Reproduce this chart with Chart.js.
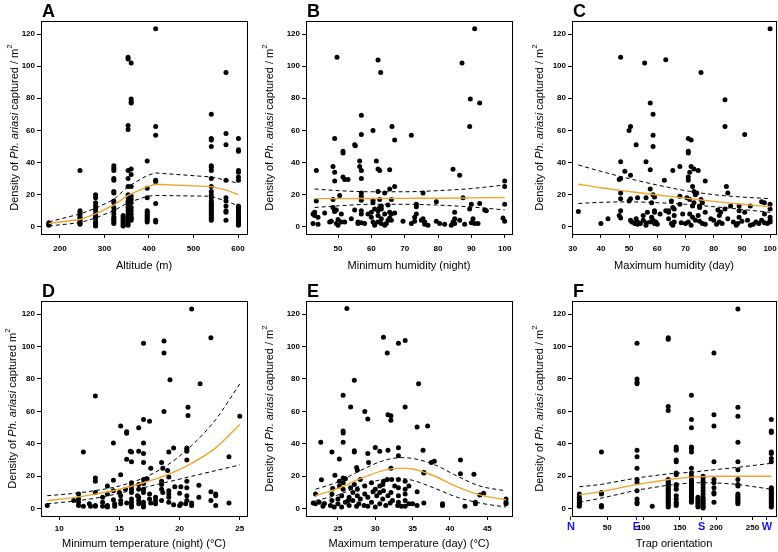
<!DOCTYPE html>
<html>
<head>
<meta charset="utf-8">
<script src="https://cdn.jsdelivr.net/npm/chart.js@4.4.1/dist/chart.umd.min.js"></script>
<style>
  html, body { margin: 0; padding: 0; background: #fff; width: 778px; height: 552px; overflow: hidden; }
  canvas { position: absolute; }
</style>
</head>
<body>
<canvas id="pA"></canvas>
<canvas id="pB"></canvas>
<canvas id="pC"></canvas>
<canvas id="pD"></canvas>
<canvas id="pE"></canvas>
<canvas id="pF"></canvas>
<script>
// Six panels: density of Ph. ariasi captured vs. each covariate,
// with the fitted curve (orange) and its confidence band (dashed).

const yTicks = [0, 20, 40, 60, 80, 100, 120];

// A - altitude: trap sites sit on a few altitudes, so values come per column
const aAltitudes = [175, 245, 280, 321, 342, 353, 360, 396, 415, 540, 573, 601];
const aDensities = [
  [1, 1.5, 2.5],
  [35, 10, 9, 7.5, 6, 5, 4, 3, 2, 1.5],
  [20, 18, 15, 13, 11, 10, 8, 7, 6, 5, 3, 2, 1, 0.5],
  [38, 36.5, 35, 30, 29, 22, 21, 16, 15, 12, 10, 8, 6, 5, 4, 3, 2],
  [7, 6, 5, 4, 3, 2, 1, 0.5],
  [105.5, 104.5, 63, 60.5, 35, 30, 25, 20, 18, 16, 15, 14, 12, 10, 8, 6, 4, 2, 1],
  [102, 79.5, 78, 77, 36, 32.5, 25, 19, 17, 15, 12, 10, 8, 6, 5, 4],
  [41, 24, 18, 10, 9, 8, 7, 6, 5, 4, 3],
  [123.2, 62.5, 57, 29, 28, 14.5, 4, 3],
  [70, 55, 54, 50, 38, 37, 35, 30, 25, 22, 20, 18, 16, 15, 14, 13, 12, 11, 10, 9, 8, 7, 6, 5, 4],
  [96, 58, 51, 29, 18, 16, 13, 10, 9, 4],
  [55, 48, 47, 35, 34, 31, 29, 13, 12, 11, 10, 9, 8, 7, 6, 5, 4, 3, 2, 1]
];
const aFitX = [175, 245, 280, 321, 353, 396, 415, 540, 573, 601];
const aFit = [2, 4.5, 8, 13.5, 19.5, 25, 26.5, 25, 23, 20];
const aUpper = [3, 8, 11.5, 17, 25, 32, 33.5, 31, 29, 27];
const aLower = [0.5, 2.5, 5.5, 10, 15, 19, 19.5, 19, 16, 13];
const aTicks = [200, 300, 400, 500, 600];

// B - minimum humidity (night)
const bPoints = [
  [91,123.2],[49.7,105.5],[62,103.8],[62.8,96],[87.2,102],[89.7,79.5],[92.5,77],[89.5,62.5],
  [66.2,62.5],[57,69.5],[57,57.5],[60.5,60],[67,54],[72,57],[49,55],[55,51],[55.2,50.5],
  [51.5,47],[51.5,46],[48.5,37.5],[49,34],[49,28.5],[43.5,35],[56.5,41],[56.5,37.5],[57,35],
  [57,30],[61.5,41],[62,36],[62.5,35],[65.5,35.5],[84.5,35.8],[86.5,32],[51.5,31],[52,29.5],
  [53,29.5],[100,28.5],[100,25],[67,25],[65.5,23.5],[64,21],[62,22],[57,21],[57,19],[75.5,21],
  [50.5,19.5],[48.5,17],[43.5,16],[60.5,16.5],[60.5,15],[62.5,17],[66,17],[73.5,14],[73.5,12.5],
  [79.5,15.5],[87.5,18],[90,14],[92.5,14.5],[100,14],[89.5,11],[94,10.5],[94.5,10],[55,10.5],
  [57,10],[57,8],[60,9],[62,10],[62.5,12],[63,11],[64,8],[65.5,9],[66,8],[67,8.5],[73.5,8],
  [73,6],[75.5,5],[76,3],[85,9],[85,5],[84.5,3],[85,2],[86.5,4],[88,1.5],[90,2.5],[90.5,5],
  [91,2],[92,2],[99.5,5.5],[100,3.5],[43,9],[42.5,8],[43,7],[44,6],[44,1.5],[42.5,2],[46,8.5],
  [47.5,3],[48,3.5],[49,10],[49.5,10.5],[50,4.5],[49.5,2],[50,1],[51,8],[51,3],[52,3],[54,5],
  [56,3],[56,2],[57,2.5],[58,2],[59,8],[60,6],[60.5,3],[61,2],[61,1],[62,7],[62,3],[63,2],
  [63,5],[64,1],[64.5,2],[65,4],[65.5,5.5],[66,4],[69.5,3.5],[72,2],[73,3.5],[75,4],[76,1.5],
  [77,1],[79.5,3.5],[80.5,2],[82,1.5],[84,1],[48.5,12],[49,9.5],[61,11],[63,13],[65,13.5],[57,16.5]
];
const bFitX = [43, 50, 60, 70, 80, 90, 100];
const bFit = [17.5, 17.5, 17.6, 17.7, 17.8, 18, 18.2];
const bUpper = [23.5, 22.5, 21.8, 21.8, 22.5, 23.8, 26];
const bLower = [12, 13, 14, 14, 13.5, 12.3, 10.5];
const bTicks = [50, 60, 70, 80, 90, 100];

// C - maximum humidity (day)
const cPoints = [
  [100,123.2],[47,105.5],[55.5,102],[63,104],[75.5,96],[84,79],[84,62.5],[91,57.5],[57.5,77],
  [58.5,70],[50.5,62.5],[50,60],[52.5,51],[58.5,57],[58.5,50],[71,55],[72,54],[71,47],[71,46],
  [47,40.5],[56,40.5],[48.5,34.5],[50.5,32],[46.5,29.5],[47,30],[57.5,35.5],[62.5,29],[65.5,35],
  [68,37.5],[71,31],[71,29],[72,37.5],[73,36],[74.5,35],[71.5,34],[77,28.5],[72.5,25],[84.5,25],
  [85,21],[73,22],[74,21],[47,21],[47,17.5],[50.5,17.5],[50,16],[47,10],[46.5,7],[47,5.5],
  [53,18],[57.5,23.5],[56,18],[58,15],[58.5,20],[59,18.5],[59,10],[59,9],[65,16],[65.5,12],
  [64,10],[64,9],[68,19],[68,14],[70.5,18],[71.5,17],[72.5,13],[73,15],[73.5,20],[75,13],
  [75.5,17],[76,15],[75,12],[77,9],[81.5,10.5],[82.5,9],[82,7],[84,11],[86,13],[89,13],[89,10],
  [91,9],[93,13],[97,15.5],[98,15],[98,8],[100,14],[100,11],[100,6],[100,4],[100,3],[99,2],
  [32,9.5],[40,2],[42.5,5],[50.5,4],[51,3],[52,2],[52.5,5],[53,3],[53,1.5],[54,2],[55,4],[56,1],
  [56,2.5],[56.5,9],[57.5,3],[58,6],[58.5,4],[59,2],[59.5,3],[60,1.5],[63,10],[64,5],[65,2],
  [65.5,1],[66,3],[66,7],[68.5,2.5],[70,2],[71,3],[71.5,8],[72,1],[72.5,6],[73.5,4],[74.5,7],
  [75,3.5],[76,2],[77,1.5],[79,5],[80,4],[81,1.5],[82,3],[83,2],[85,5],[87,3],[88.5,2],[88,1],
  [89,6],[90,3.5],[92,4],[93,1],[94,1.5],[95,3],[96,2],[97,4],[98,2.5],[55,7],[61,8],[66,11],[69,8]
];
const cFitX = [32, 40, 50, 60, 70, 80, 90, 100];
const cFit = [26.5, 24.3, 22, 19.8, 17.8, 15.8, 14, 12.5];
const cUpper = [38.5, 34.5, 30, 26, 22.5, 20, 18.5, 17.5];
const cLower = [14.5, 15.2, 15.5, 15, 14, 12.5, 10.8, 9];
const cTicks = [30, 40, 50, 60, 70, 80, 90, 100];

// D - minimum temperature (night)
const dPoints = [
  [21,123.2],[18.7,103.5],[18.7,96],[17,102],[22.6,105.5],[19.2,79.5],[21.7,77],[13,69.5],
  [18.7,60],[20.7,62.5],[20.7,57.5],[25,57],[17,55],[17.5,54],[15.1,51],[16.6,50],[15.6,47.5],
  [15.6,46.5],[14.5,40.5],[17,40.5],[12,35],[15.9,35.5],[16,35],[16.6,35.5],[17,34],[19.1,35],
  [19.5,37.5],[20.6,36.5],[20.6,37.5],[20.6,35.5],[24.1,32],[15.6,30.5],[16,29],[17,28.5],
  [18.5,28.5],[20.6,30],[17.6,25],[18.6,25],[19,23.5],[13,19],[13,17],[14.5,17.5],[15.1,21],
  [17,18],[18.5,17],[18.5,15],[19.1,19.5],[20.6,17],[21.6,14.5],[19.6,13.5],[20.1,13.5],
  [20.6,13],[14,14],[14.5,11],[16,16],[16,14],[16.6,15],[17,15.5],[16,12],[16,10],[16.6,12],
  [17,12],[17,10],[17.5,9],[18,7],[18.5,12],[18.6,10],[19.1,11],[19.1,9],[20,9.5],[20.6,8],
  [21.6,7],[22.6,10.5],[23,9],[23,8],[22.6,5],[23,2],[24.1,3.5],[21,2],[21,3.5],[20.1,3],
  [20.6,5],[19.1,7],[19.1,4],[18.5,5],[18,3],[17.6,3.5],[17,4],[17,2],[17,1],[16.6,3],[16.6,5],
  [16.6,7],[16,6],[16,4],[16,2],[16,1],[15.6,3.5],[15.1,8],[15.1,5],[15.1,3],[14.6,3],[14.6,1.5],
  [14,9],[14,2],[14,1],[13.6,4],[13.6,7],[13,10],[13,2],[13,1.5],[12.6,1.5],[12,1.5],[11.6,9],
  [11.6,4],[11.6,2],[11.2,5],[9,2],[11.6,6],[13.6,1.5],[14.5,5.5],[15.5,12],[16.5,8],[17.5,6],
  [18,5],[19.5,2.5],[20,2],[20.5,3],[15,10],[12.5,3],[17.3,18.5]
];
const dFitX = [9, 11, 13, 15, 17, 19, 21, 23, 25];
const dFit = [5, 6.7, 9, 12, 16, 21, 28, 37.5, 52];
const dUpper = [8, 9.3, 11.2, 14, 19, 27, 39, 55, 77];
const dLower = [3, 4.5, 6.5, 9.5, 13, 16.5, 20, 23.5, 27];
const dTicks = [10, 15, 20, 25];

// E - maximum temperature (day)
const ePoints = [
  [26.2,123.5],[31.1,105.8],[33.1,102],[34,103.7],[31.6,96],[27.2,79.3],[35.8,77],[25.7,70],
  [26.7,62.8],[34,62.8],[28.6,60],[29,55.4],[31.7,58],[32.1,57.4],[32.1,54.5],[35.6,50.4],
  [37,51],[25.7,48],[25.7,46.7],[25.7,41],[22.7,41],[24.2,35],[27.2,35.7],[27.2,35],[29,34],
  [30,37.8],[30.6,35.5],[31.7,36],[33.1,37.6],[33.1,32.6],[36.4,36],[37.9,29.3],[37.5,28.5],
  [41.4,30],[41.4,21.5],[43.2,21.3],[36.5,22.3],[29.1,28.5],[25.2,30.6],[22.8,17.8],[24.6,20.7],
  [27.5,25.4],[27.6,23.8],[22,9],[21.7,3.5],[22,3],[22.5,4],[23,1.5],[24,2],[24.2,5],[24.2,9],
  [24.3,12.5],[24.5,1],[25,3],[25,6],[25.2,14],[25.5,1],[25.5,8],[25.7,19],[25.7,16],[25.7,12],
  [26,18.5],[26,4],[26.5,2],[26.5,7],[26.7,13],[27,10],[27.2,15],[27,5],[27.5,1.5],[27.6,12],
  [27.6,8],[27.8,3],[28,18],[28,6],[28.5,2],[28.6,14],[28.6,9],[29,1.5],[29,7],[29.5,16],
  [29.5,4],[30,12],[30,1],[30.2,8],[30.6,14],[30.6,10],[30.6,3],[31,6],[31.1,17],[31.1,11],
  [31.4,2],[31.6,18],[31.7,8],[32,3.5],[32.1,25],[32.2,18],[32.1,10],[32.3,5],[33,2],[33.1,18],
  [33.1,13],[33.1,8],[33.1,4],[33.5,1.5],[34,17],[34,12],[34,9],[34,5],[34,1.5],[34.5,3],
  [34.5,14],[35,3],[35.6,10.5],[35.6,2],[36.5,3.5],[36.5,22],[39,2],[39,3],[42,1.5],[43.4,3],
  [43.4,4],[44,8.5],[44.5,9.5],[47.5,6],[47.5,4],[47.5,3],[25.2,17],[26.4,5],[23.2,3.2],
  [29.7,10.5],[31,15],[32.6,14]
];
const eFitX = [22, 25, 28, 31, 33.5, 35, 38, 41, 44, 47.5];
const eFit = [8, 12.5, 18.5, 23.5, 25, 24.5, 20, 13.5, 8.5, 5.5];
const eUpper = [12, 16.5, 23.5, 29.5, 31.5, 31, 27, 20, 14, 11];
const eLower = [5, 8.5, 14, 18, 18.5, 17.5, 12.5, 7, 3.5, 1];
const eTicks = [25, 30, 35, 40, 45];

// F - trap orientation (degrees from north), values per column
const fOrientations = [11.5, 42, 91, 112, 134, 145, 166, 175, 182, 197, 230, 276];
const fDensities = [
  [9, 7, 6, 5, 4, 3, 2, 1.5],
  [35, 10, 9, 2, 1],
  [102, 80, 78, 77, 36, 32, 25, 18, 16, 11, 6, 4, 3],
  [1.5],
  [105.5, 104.5, 63, 60.5, 18, 17, 16, 15, 14, 13, 12, 11, 10, 9, 8, 7, 6, 5, 4, 3, 2, 1],
  [38, 37, 36, 30, 29, 22, 21, 15, 14, 12, 8, 6, 4, 3, 2],
  [70, 55, 50, 38, 37, 35, 25, 22, 20, 18, 17, 16, 15, 14, 13, 12, 11, 10, 9, 8, 7, 6, 5, 4],
  [7, 6, 5, 4, 3, 2, 1],
  [20, 19, 17, 15, 13, 11, 9, 7, 6, 5, 4, 3, 2, 1, 0.5],
  [96, 58, 51, 29, 18, 16, 13, 10, 9, 4],
  [123.2, 62.5, 57, 41, 29, 24, 18, 15, 14, 9, 8, 7, 6, 5, 4, 3],
  [55, 48, 47, 35, 34, 31, 29, 13, 12, 11, 10, 9, 8, 7, 6, 5, 4, 3, 2, 1]
];
const fFitX = [11.5, 42, 91, 134, 166, 197, 230, 276];
const fFit = [8.5, 10.5, 15, 18, 19.5, 20, 20, 20];
const fUpper = [13.5, 15, 19, 21.5, 22.5, 24, 25.5, 28];
const fLower = [4, 6.5, 11.5, 14.5, 16, 16, 15, 12];
const fTicks = [0, 50, 90, 100, 150, 180, 200, 250, 270];
const fTickLabels = ['N', '50', 'E', '100', '150', 'S', '200', '250', 'W'];
const fCompass = ['N', 'E', 'S', 'W'];

const FONT = '"Liberation Sans", Arial, Helvetica, sans-serif';
const ORANGE = '#f2a431';
const BLUE = '#1414ee';

function fromColumns(xs, cols) {
  const pts = [];
  xs.forEach((x, i) => cols[i].forEach((y) => pts.push([x, y])));
  return pts;
}

function lineData(xs, ys) {
  return xs.map((x, i) => ({ x, y: ys[i] }));
}

// frame box, panel letter, and y title with italic species name + superscript
const panelDecor = {
  id: 'panelDecor',
  afterDraw(chart, args, opts) {
    const { ctx, chartArea: a } = chart;
    ctx.save();
    ctx.strokeStyle = '#000';
    ctx.lineWidth = 1;
    ctx.strokeRect(Math.round(a.left) + 0.5, Math.round(a.top) + 0.5,
      Math.round(a.right - a.left), Math.round(a.bottom - a.top));

    ctx.fillStyle = '#000';
    ctx.textAlign = 'left';
    ctx.textBaseline = 'alphabetic';
    ctx.font = 'bold 18px ' + FONT;
    ctx.fillText(opts.letter, a.left + 1, a.top - 4);

    const parts = [
      { t: 'Density of ', f: '11px ' + FONT },
      { t: 'Ph. ariasi', f: 'italic 11px ' + FONT },
      { t: opts.slash ? ' captured / m' : ' captured m', f: '11px ' + FONT },
      { t: '2', f: '8px ' + FONT, dy: -5 }
    ];
    let total = 0;
    parts.forEach((p) => { ctx.font = p.f; p.w = ctx.measureText(p.t).width; total += p.w; });
    ctx.translate(opts.titleX, (a.top + a.bottom) / 2);
    ctx.rotate(-Math.PI / 2);
    ctx.textBaseline = 'middle';
    let x = -total / 2;
    parts.forEach((p) => { ctx.font = p.f; ctx.fillText(p.t, x, p.dy || 0); x += p.w; });
    ctx.restore();
  }
};

function makePanel(p) {
  const cv = document.getElementById('p' + p.letter);
  const [cl, ct, cw, ch] = p.canvas;
  const [fl, ft, fr, fb] = p.frame;
  cv.width = cw;
  cv.height = ch;
  cv.style.left = cl + 'px';
  cv.style.top = ct + 'px';

  const curve = (ys, color, dash, width) => ({
    data: lineData(p.fitX, ys),
    showLine: true,
    borderColor: color,
    borderWidth: width,
    borderDash: dash,
    pointRadius: 0,
    pointHoverRadius: 0,
    fill: false,
    cubicInterpolationMode: p.smooth ? 'monotone' : 'default',
    tension: 0
  });

  const isCompass = (c) => p.labels && fCompass.includes(p.labels[c.index]);

  new Chart(cv, {
    type: 'scatter',
    data: {
      datasets: [
        curve(p.fit, ORANGE, [], 1.4),
        curve(p.upper, '#000', [4, 3], 1),
        curve(p.lower, '#000', [4, 3], 1),
        {
          data: p.points.map(([x, y]) => ({ x, y })),
          pointRadius: 2.5,
          pointHoverRadius: 2.5,
          backgroundColor: '#000',
          borderWidth: 0
        }
      ]
    },
    options: {
      responsive: false,
      animation: false,
      events: [],
      layout: { padding: { left: 0, top: ft - ct, right: cl + cw - fr, bottom: 0 } },
      plugins: {
        legend: { display: false },
        tooltip: { enabled: false },
        panelDecor: { letter: p.letter, titleX: p.titleX - cl, slash: p.slash }
      },
      scales: {
        x: {
          type: 'linear',
          min: p.xMin,
          max: p.xMax,
          afterBuildTicks: (s) => { s.ticks = p.ticks.map((v) => ({ value: v })); },
          afterFit: (s) => { s.height = ct + ch - fb; },
          border: { display: false },
          grid: {
            drawOnChartArea: false,
            tickLength: 4,
            tickColor: (c) => (isCompass(c) ? BLUE : '#000')
          },
          ticks: {
            autoSkip: false,
            maxRotation: 0,
            minRotation: 0,
            padding: p.tickPad,
            color: (c) => (isCompass(c) ? BLUE : '#000'),
            font: (c) => (isCompass(c)
              ? { family: FONT, size: 11, weight: 'bold', lineHeight: 0.8 }
              : { family: FONT, size: 8, weight: 'bold' }),
            callback: (v, i) => (p.labels ? p.labels[i] : String(v))
          },
          title: {
            display: true,
            text: p.xTitle,
            color: '#000',
            font: { family: FONT, size: 11 },
            padding: { top: 0, bottom: p.titlePad }
          }
        },
        y: {
          type: 'linear',
          min: -4.5,
          max: 128.1,
          afterBuildTicks: (s) => { s.ticks = yTicks.map((v) => ({ value: v })); },
          afterFit: (s) => { s.width = fl - cl; },
          border: { display: false },
          grid: { drawOnChartArea: false, tickLength: 4, tickColor: '#000' },
          ticks: { padding: 2, color: '#000', font: { family: FONT, size: 8, weight: 'bold' } }
        }
      }
    },
    plugins: [panelDecor]
  });
}

const TOP = [21, 234];
const BOT = [301, 516];

makePanel({ letter: 'A', canvas: [0, 0, 260, 276], frame: [41, TOP[0], 247, TOP[1]], titleX: 15,
  slash: true, points: fromColumns(aAltitudes, aDensities), fitX: aFitX, fit: aFit, upper: aUpper,
  lower: aLower, ticks: aTicks, xMin: 157.4, xMax: 620.2, xTitle: 'Altitude (m)', titlePad: 3.7,
  tickPad: 6, smooth: false });
makePanel({ letter: 'B', canvas: [260, 0, 260, 276], frame: [306, TOP[0], 512, TOP[1]], titleX: 270,
  slash: true, points: bPoints, fitX: bFitX, fit: bFit, upper: bUpper, lower: bLower, ticks: bTicks,
  xMin: 40.4, xMax: 102.2, xTitle: 'Minimum humidity (night)', titlePad: 3.7, tickPad: 6, smooth: true });
makePanel({ letter: 'C', canvas: [520, 0, 270, 276], frame: [572, TOP[0], 776, TOP[1]], titleX: 540,
  slash: true, points: cPoints, fitX: cFitX, fit: cFit, upper: cUpper, lower: cLower, ticks: cTicks,
  xMin: 29.75, xMax: 102.1, xTitle: 'Maximum humidity (day)', titlePad: 3.7, tickPad: 6, smooth: true });
makePanel({ letter: 'D', canvas: [0, 276, 260, 276], frame: [41, BOT[0], 247, BOT[1]], titleX: 13,
  slash: false, points: dPoints, fitX: dFitX, fit: dFit, upper: dUpper, lower: dLower, ticks: dTicks,
  xMin: 8.48, xMax: 25.6, xTitle: 'Minimum temperature (night) (°C)', titlePad: 1.4, tickPad: 4,
  smooth: true });
makePanel({ letter: 'E', canvas: [260, 276, 260, 276], frame: [306, BOT[0], 512, BOT[1]], titleX: 270,
  slash: true, points: ePoints, fitX: eFitX, fit: eFit, upper: eUpper, lower: eLower, ticks: eTicks,
  xMin: 20.73, xMax: 48.3, xTitle: 'Maximum temperature (day) (°C)', titlePad: 1.4, tickPad: 4,
  smooth: true });
makePanel({ letter: 'F', canvas: [520, 276, 270, 276], frame: [572, BOT[0], 776, BOT[1]], titleX: 540,
  slash: true, points: fromColumns(fOrientations, fDensities), fitX: fFitX, fit: fFit, upper: fUpper,
  lower: fLower, ticks: fTicks, labels: fTickLabels, xMin: 1.4, xMax: 282.5,
  xTitle: 'Trap orientation', titlePad: 1.4, tickPad: 3, smooth: false });
</script>
</body>
</html>
